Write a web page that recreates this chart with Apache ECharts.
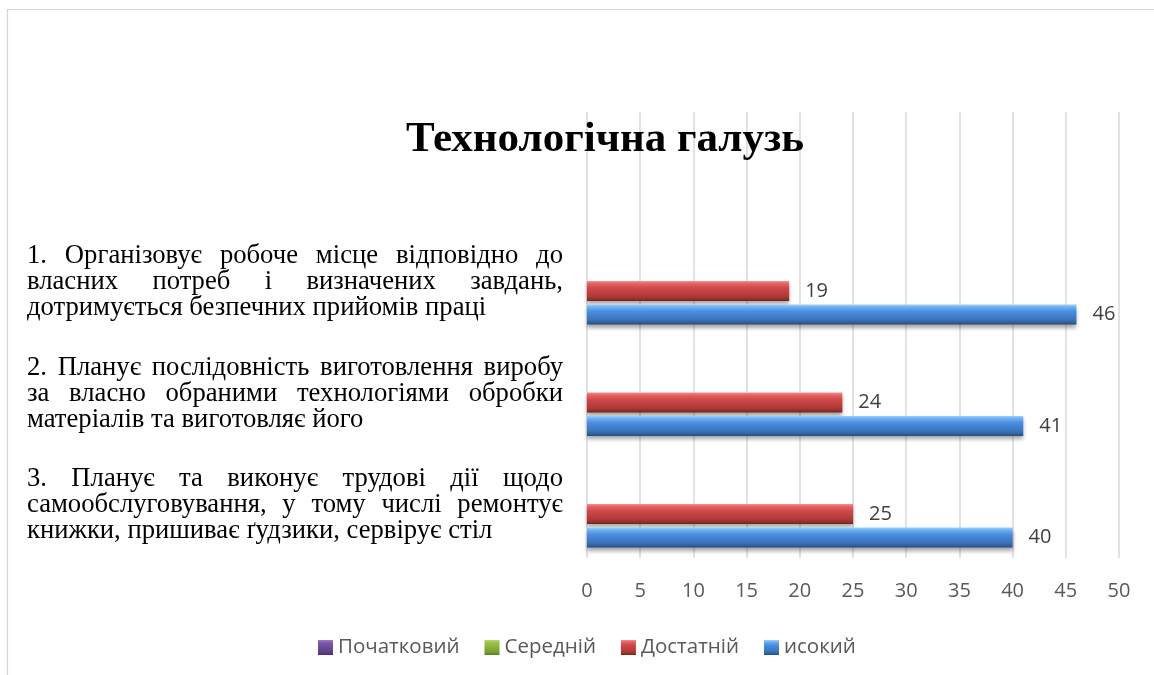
<!DOCTYPE html>
<html>
<head>
<meta charset="utf-8">
<script src="https://cdn.jsdelivr.net/npm/echarts@6/dist/echarts.min.js"></script>
<style>
html,body{margin:0;padding:0;background:#fff;}
#chart{width:1154px;height:675px;}
</style>
</head>
<body>
<div id="chart"></div>
<script>
const titleText = 'Технологічна галузь';
const categories = [
  '',
  '1. Організовує робоче місце відповідно до\nвласних потреб і визначених завдань,\nдотримується безпечних прийомів праці',
  '2. Планує послідовність виготовлення виробу\nза власно обраними технологіями обробки\nматеріалів та виготовляє його',
  '3. Планує та виконує трудові дії щодо\nсамообслуговування, у тому числі ремонтує\nкнижки, пришиває ґудзики, сервірує стіл'
];
const seriesNames = ['Початковий', 'Середній', 'Достатній', 'исокий'];
const valuesPochatkovyi = [null, null, null, null];
const valuesSerednii = [null, null, null, null];
const valuesDostatnii = [null, 19, 24, 25];
const valuesVysokyi = [null, 46, 41, 40];
const xMin = 0, xMax = 50, xInterval = 5;

const serif = 'Liberation Serif';
const sans = 'Open Sans';
const catFontSize = 26.67;
const catLineHeight = 26;
const justifyWidth = 536;

const ctx = document.createElement('canvas').getContext('2d');
ctx.font = catFontSize + 'px ' + serif;
const rich = {
  w: {fontFamily: serif, fontSize: catFontSize, lineHeight: catLineHeight, color: '#000', align: 'left'}
};
const catLabelMap = {};
categories.forEach((text, ci) => {
  if (!text) { catLabelMap[text] = ''; return; }
  const lines = text.split('\n');
  const out = lines.map((line, li) => {
    const words = line.split(' ');
    if (li === lines.length - 1 || words.length < 2) {
      return '{w|' + line + '}';
    }
    let sum = 0;
    words.forEach(wd => { sum += ctx.measureText(wd).width; });
    const gap = (justifyWidth - sum) / (words.length - 1);
    const key = 'g' + ci + '_' + li;
    rich[key] = {fontFamily: serif, fontSize: catFontSize, lineHeight: catLineHeight, width: gap, align: 'left'};
    return words.map(wd => '{w|' + wd + '}').join('{' + key + '| }');
  });
  catLabelMap[text] = out.join('\n');
});

function grad(stops) {
  return new echarts.graphic.LinearGradient(0, 0, 0, 1, stops.map(c => ({offset: c[0], color: c[1]})));
}
const colors = [
  grad([[0,'#9a7cc4'],[0.2,'#7b57a8'],[0.8,'#5e3f88'],[1,'#4a2f6e']]),
  grad([[0,'#b5d66a'],[0.2,'#98c04a'],[0.8,'#7a9e35'],[1,'#5d7a26']]),
  grad([[0,'#f59090'],[0.12,'#e86565'],[0.35,'#d04848'],[0.75,'#b03a38'],[0.9,'#952f2d'],[1,'#6e2220']]),
  grad([[0,'#9fd0fb'],[0.12,'#6fb2f2'],[0.35,'#4a8ee0'],[0.75,'#3b74bd'],[0.9,'#30609e'],[1,'#23497a']])
];
const dataSets = [valuesPochatkovyi, valuesSerednii, valuesDostatnii, valuesVysokyi];

const chart = echarts.init(document.getElementById('chart'), null, {renderer: 'canvas'});
chart.setOption({
  backgroundColor: '#fff',
  animation: false,
  title: {
    text: titleText,
    left: 600,
    top: 113,
    textAlign: 'center',
    textStyle: {fontFamily: serif, fontWeight: 'bold', fontSize: 43, color: '#000'}
  },
  legend: {
    data: seriesNames,
    left: 313,
    top: 632,
    itemWidth: 15,
    itemHeight: 15,
    itemGap: 25,
    icon: 'rect',
    textStyle: {fontFamily: sans, fontSize: 20.5, color: '#595959'}
  },
  graphic: [{
    type: 'rect',
    shape: {x: 7.5, y: 9.5, width: 1200, height: 700},
    style: {fill: 'none', stroke: '#d6d6d6', lineWidth: 1.2},
    silent: true,
    z: -10
  }],
  grid: {left: 587, right: 35, top: 112, bottom: 117, containLabel: false},
  xAxis: {
    type: 'value',
    min: xMin, max: xMax, interval: xInterval,
    axisLine: {show: false},
    axisTick: {show: false},
    splitLine: {show: true, lineStyle: {color: '#d9d9d9', width: 1.5}},
    axisLabel: {fontFamily: sans, fontSize: 20, color: '#595959', margin: 23}
  },
  yAxis: {
    type: 'category',
    data: categories,
    inverse: true,
    axisLine: {show: false},
    axisTick: {show: false},
    axisLabel: {
      margin: 24,
      padding: [6, 0, 0, 0],
      fontFamily: serif, fontSize: catFontSize, lineHeight: catLineHeight, color: '#000',
      formatter: v => catLabelMap[v],
      rich: rich
    }
  },
  series: seriesNames.map((name, i) => ({
    name: name,
    type: 'bar',
    data: dataSets[i],
    barWidth: 20,
    barGap: '17.5%',
    itemStyle: {
      color: colors[i],
      shadowColor: 'rgba(0,0,0,0.35)',
      shadowBlur: 4,
      shadowOffsetY: 3
    },
    label: {
      show: true,
      position: 'right',
      distance: 16,
      fontFamily: sans, fontSize: 20, color: '#404040'
    }
  }))
});
</script>
</body>
</html>
